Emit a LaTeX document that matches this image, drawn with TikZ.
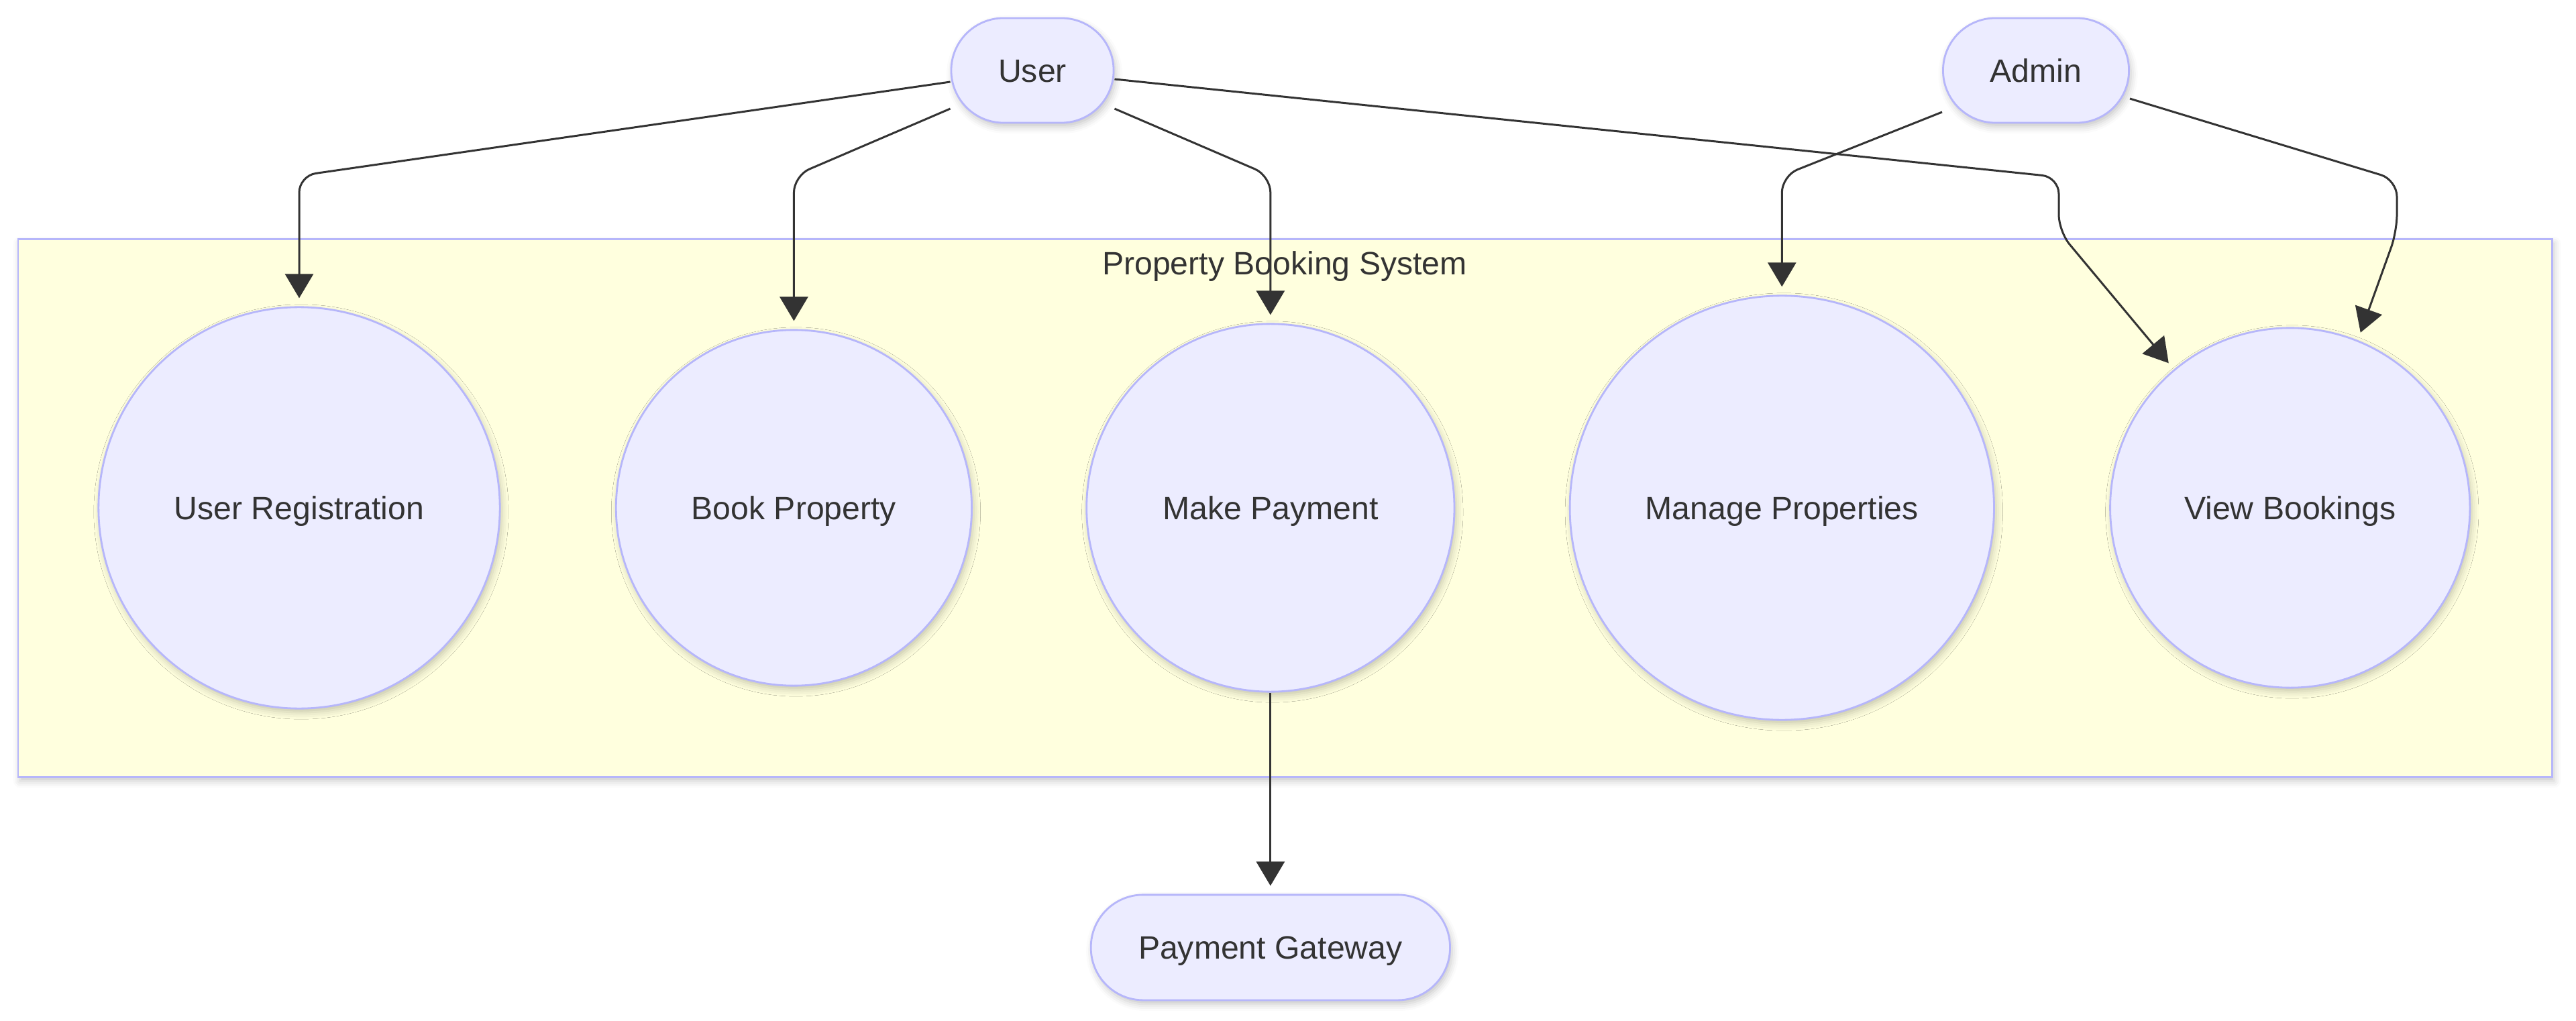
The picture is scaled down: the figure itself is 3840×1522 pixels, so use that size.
\documentclass[tikz,border=0pt]{standalone}
\usepackage{fontspec}
\setmainfont{Liberation Sans}
\usetikzlibrary{arrows.meta,positioning,shadows.blur}
\definecolor{nodefill}{HTML}{ECECFF}
\definecolor{nodeline}{HTML}{B6B6FA}
\definecolor{boxfill}{HTML}{FFFFDE}
\definecolor{ink}{HTML}{333333}

\begin{document}
\begin{tikzpicture}[x=0.01cm, y=-0.01cm, on grid,
	font=\fontsize{13.7}{16}\selectfont, text=ink, text height=9.8pt, text depth=0pt,
	softshadow/.style={blur shadow={shadow xshift=0.03cm, shadow yshift=-0.06cm, shadow blur radius=0.1cm, shadow opacity=22}},
	actor/.style={draw=nodeline, fill=nodefill, line width=0.8pt, rounded corners=0.78cm, minimum height=1.56cm, inner sep=0pt, softshadow},
	usecase/.style={circle, draw=nodeline, fill=nodefill, line width=0.8pt, inner sep=0pt, softshadow},
	flow/.style={draw=ink, line width=0.85pt, rounded corners=0.25cm, -{Triangle[length=0.36cm, width=0.42cm]}, shorten >=0.12cm}]
	\useasboundingbox (0,0) rectangle (3840,1522);
	\node[draw=nodeline, fill=boxfill, line width=0.8pt, softshadow, minimum width=37.75cm, minimum height=8.01cm, inner sep=0pt] (sys) at (1915.5,757.5) {};
	\node (systitle) at (1915,392) {Property Booking System};

	\node[actor, minimum width=2.42cm] (user) at (1539,105) {User};
	\node[actor, minimum width=2.77cm] (admin) at (3035,105) {Admin};
	\node[usecase, minimum size=5.98cm] (reg) at (446,757) {User Registration};
	\node[usecase, minimum size=5.30cm] (book) [right=7.37cm of reg] {Book Property};
	\node[usecase, minimum size=5.48cm] (pay) [right=7.10cm of book] {Make Payment};
	\node[usecase, minimum size=6.32cm] (manage) [right=7.62cm of pay] {Manage Properties};
	\node[usecase, minimum size=5.36cm] (view) [right=7.57cm of manage] {View Bookings};
	\node[actor, minimum width=5.35cm, minimum height=1.57cm] (gateway) [below=6.55cm of pay] {Payment Gateway};

	\coordinate (bend) at (0,262);
	\draw[flow] ([yshift=-0.17cm]user.west) -- (reg.north |- bend) -- (reg.north);
	\draw[flow] ([yshift=-0.57cm]user.west) -- (book.north |- bend) -- (book.north);
	\draw[flow] ([yshift=-0.57cm]user.east) -- (pay.north |- bend) -- (pay.north);
	\draw[flow] ([yshift=-0.13cm]user.east) -- (3069,264) -- (3069,345) -- (view.130.5);
	\draw[flow] ([yshift=-0.62cm]admin.west) -- (manage.north |- bend) -- (manage.north);
	\draw[flow] ([yshift=-0.42cm]admin.east) -- (3573,268) -- (3573,345) -- (view.68);
	\draw[flow] (pay.south) -- (gateway.north);
\end{tikzpicture}
\end{document}
